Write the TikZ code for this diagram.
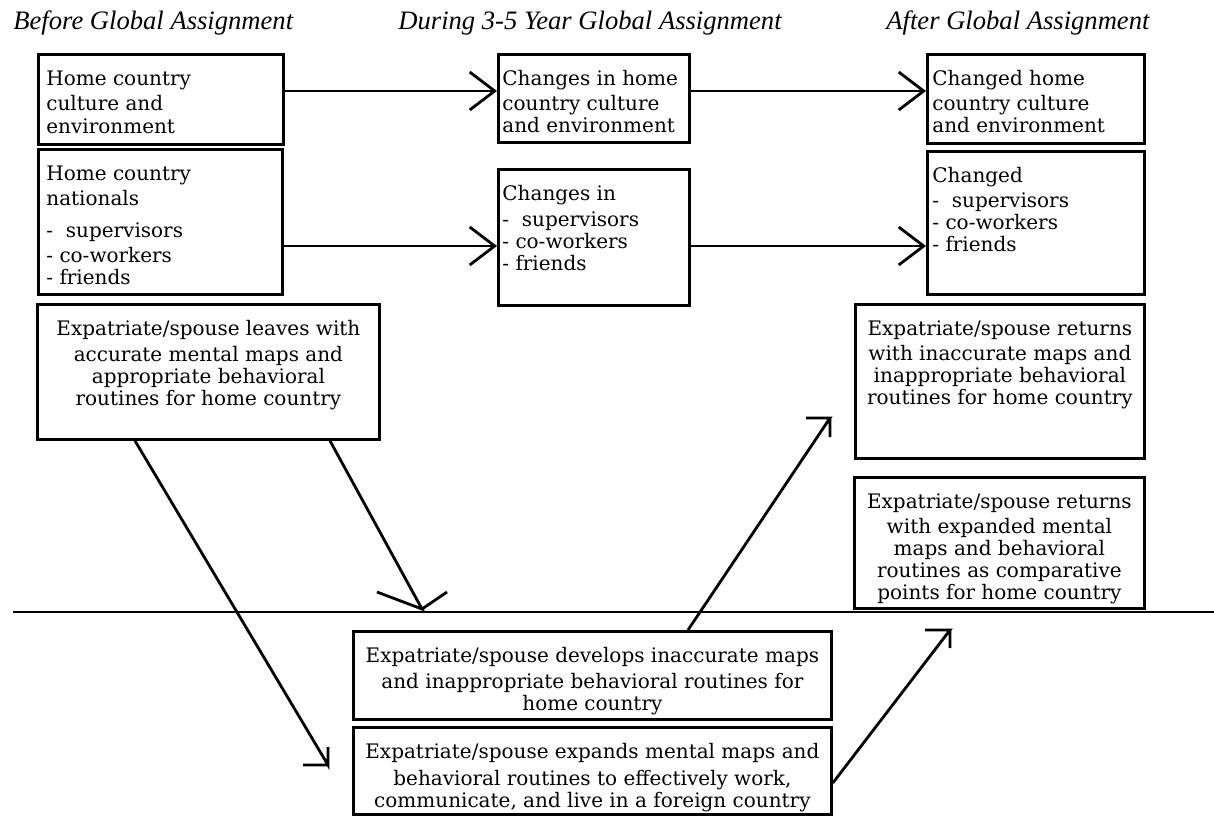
\documentclass[tikz,border=0pt]{standalone}
\usepackage{fontspec}
\setmainfont{DejaVu Serif}
\newfontfamily\boxfnt{DejaVu Serif}
\newfontfamily\headfnt{Liberation Serif}
\usetikzlibrary{arrows.meta}
\newcommand\lbx[4]{\parbox[c][#2][t]{#1}{\raggedright\leftskip=#3\relax\rule{0pt}{15.5pt}#4}}
\newcommand\cbx[3]{\parbox[c][#2][t]{#1}{\centering\rule{0pt}{15.5pt}#3}}
\begin{document}
\begin{tikzpicture}[x=0.5pt,y=-0.5pt,
  bx/.style={draw,line width=1.4pt,inner sep=0pt,anchor=north west,
    font=\boxfnt\fontsize{10}{11}\selectfont},
  hd/.style={anchor=base west,inner sep=0pt,
    font=\headfnt\itshape\fontsize{13.3}{16}\selectfont},
  conn/.style={line width=1.4pt},
  harrow/.style={conn,-{Straight Barb[length=12.5pt,width=19pt]}}]
\fill[white] (0,0) rectangle (1214,815);
\useasboundingbox (0,0) rectangle (1214,815);
% headers
\node[hd] (h1) at (13,29) {Before Global Assignment};
\node[hd] (h2) at (398,29) {During 3-5 Year Global Assignment};
\node[hd] (h3) at (886,29) {After Global Assignment};
% before column
\node[bx] (b1) at (37,53) {\lbx{122.5pt}{45pt}{4pt}{Home country\\[1.5pt]culture and\\[0.5pt]environment}};
\node[bx] (b2) at (37,148) {\lbx{122pt}{72.5pt}{4pt}{Home country\\[1.5pt]nationals\\[5pt]-~~supervisors\\[1.5pt]-~co-workers\\-~friends}};
\node[bx] (b3) at (36,303) {\cbx{171pt}{67.5pt}{Expatriate/spouse leaves with\\[2pt]accurate mental maps and\\appropriate behavioral\\routines for home country}};
% during column
\node[bx] (b4) at (497,53) {\lbx{95.5pt}{44pt}{2pt}{Changes in home\\[1.5pt]country culture\\and environment}};
\node[bx] (b5) at (497,168) {\lbx{95.5pt}{68pt}{2pt}{Changes in\\[2pt]-~~supervisors\\-~co-workers\\-~friends}};
% after column
\node[bx] (b6) at (926,53) {\lbx{108.5pt}{44.5pt}{2.5pt}{Changed home\\[1.5pt]country culture\\and environment}};
\node[bx] (b7) at (926,150) {\lbx{108.5pt}{71.5pt}{2.5pt}{Changed\\[1.5pt]-~~supervisors\\-~co-workers\\-~friends}};
\node[bx] (b8) at (854,303) {\cbx{144.5pt}{77pt}{Expatriate/spouse returns\\[1.5pt]with inaccurate maps and\\inappropriate behavioral\\routines for home country}};
\node[bx] (b9) at (853,476) {\cbx{145pt}{65.5pt}{Expatriate/spouse returns\\[1.5pt]with expanded mental\\maps and behavioral\\routines as comparative\\points for home country}};
% foreign country
\node[bx] (b10) at (352,630) {\cbx{239pt}{44pt}{Expatriate/spouse develops inaccurate maps\\[2pt]and inappropriate behavioral routines for\\home country}};
\node[bx] (b11) at (352,726) {\cbx{239pt}{43.5pt}{Expatriate/spouse expands mental maps and\\[2.5pt]behavioral routines to effectively work,\\communicate, and live in a foreign country}};
% border line between home and foreign country
\coordinate (L0) at (13,612);
\coordinate (L1) at (1214,612);
\draw[conn] (L0) -- (L1);
% horizontal arrows
\coordinate (r1) at (0,91);
\coordinate (r2) at (0,246);
\draw[harrow] (b1.east |- r1) -- (b4.west |- r1);
\draw[harrow] (b4.east |- r1) -- (b6.west |- r1);
\draw[harrow] (b2.east |- r2) -- (b5.west |- r2);
\draw[harrow] (b5.east |- r2) -- (b7.west |- r2);
% diagonal arrows
\coordinate (s5) at (135,0);
\coordinate (s6) at (330,0);
\coordinate (s7) at (688,0);
\coordinate (s8) at (0,783);
\coordinate (t5) at (328,765);
\coordinate (t6) at (422,609);
\coordinate (t7) at (830,418);
\coordinate (t8) at (950,630);
\draw[conn] (b3.south -| s5) -- (t5) -- ++(0,-18) (t5) -- ++(-25,0);
\draw[conn] (b3.south -| s6) -- (t6) -- ++(-45,-17) (t6) -- ++(25,-17);
\draw[conn] (b10.north -| s7) -- (t7) -- ++(-24,0) (t7) -- ++(0,19);
\draw[conn] (b11.east |- s8) -- (t8) -- ++(-25,0) (t8) -- ++(0,18);
\end{tikzpicture}
\end{document}
